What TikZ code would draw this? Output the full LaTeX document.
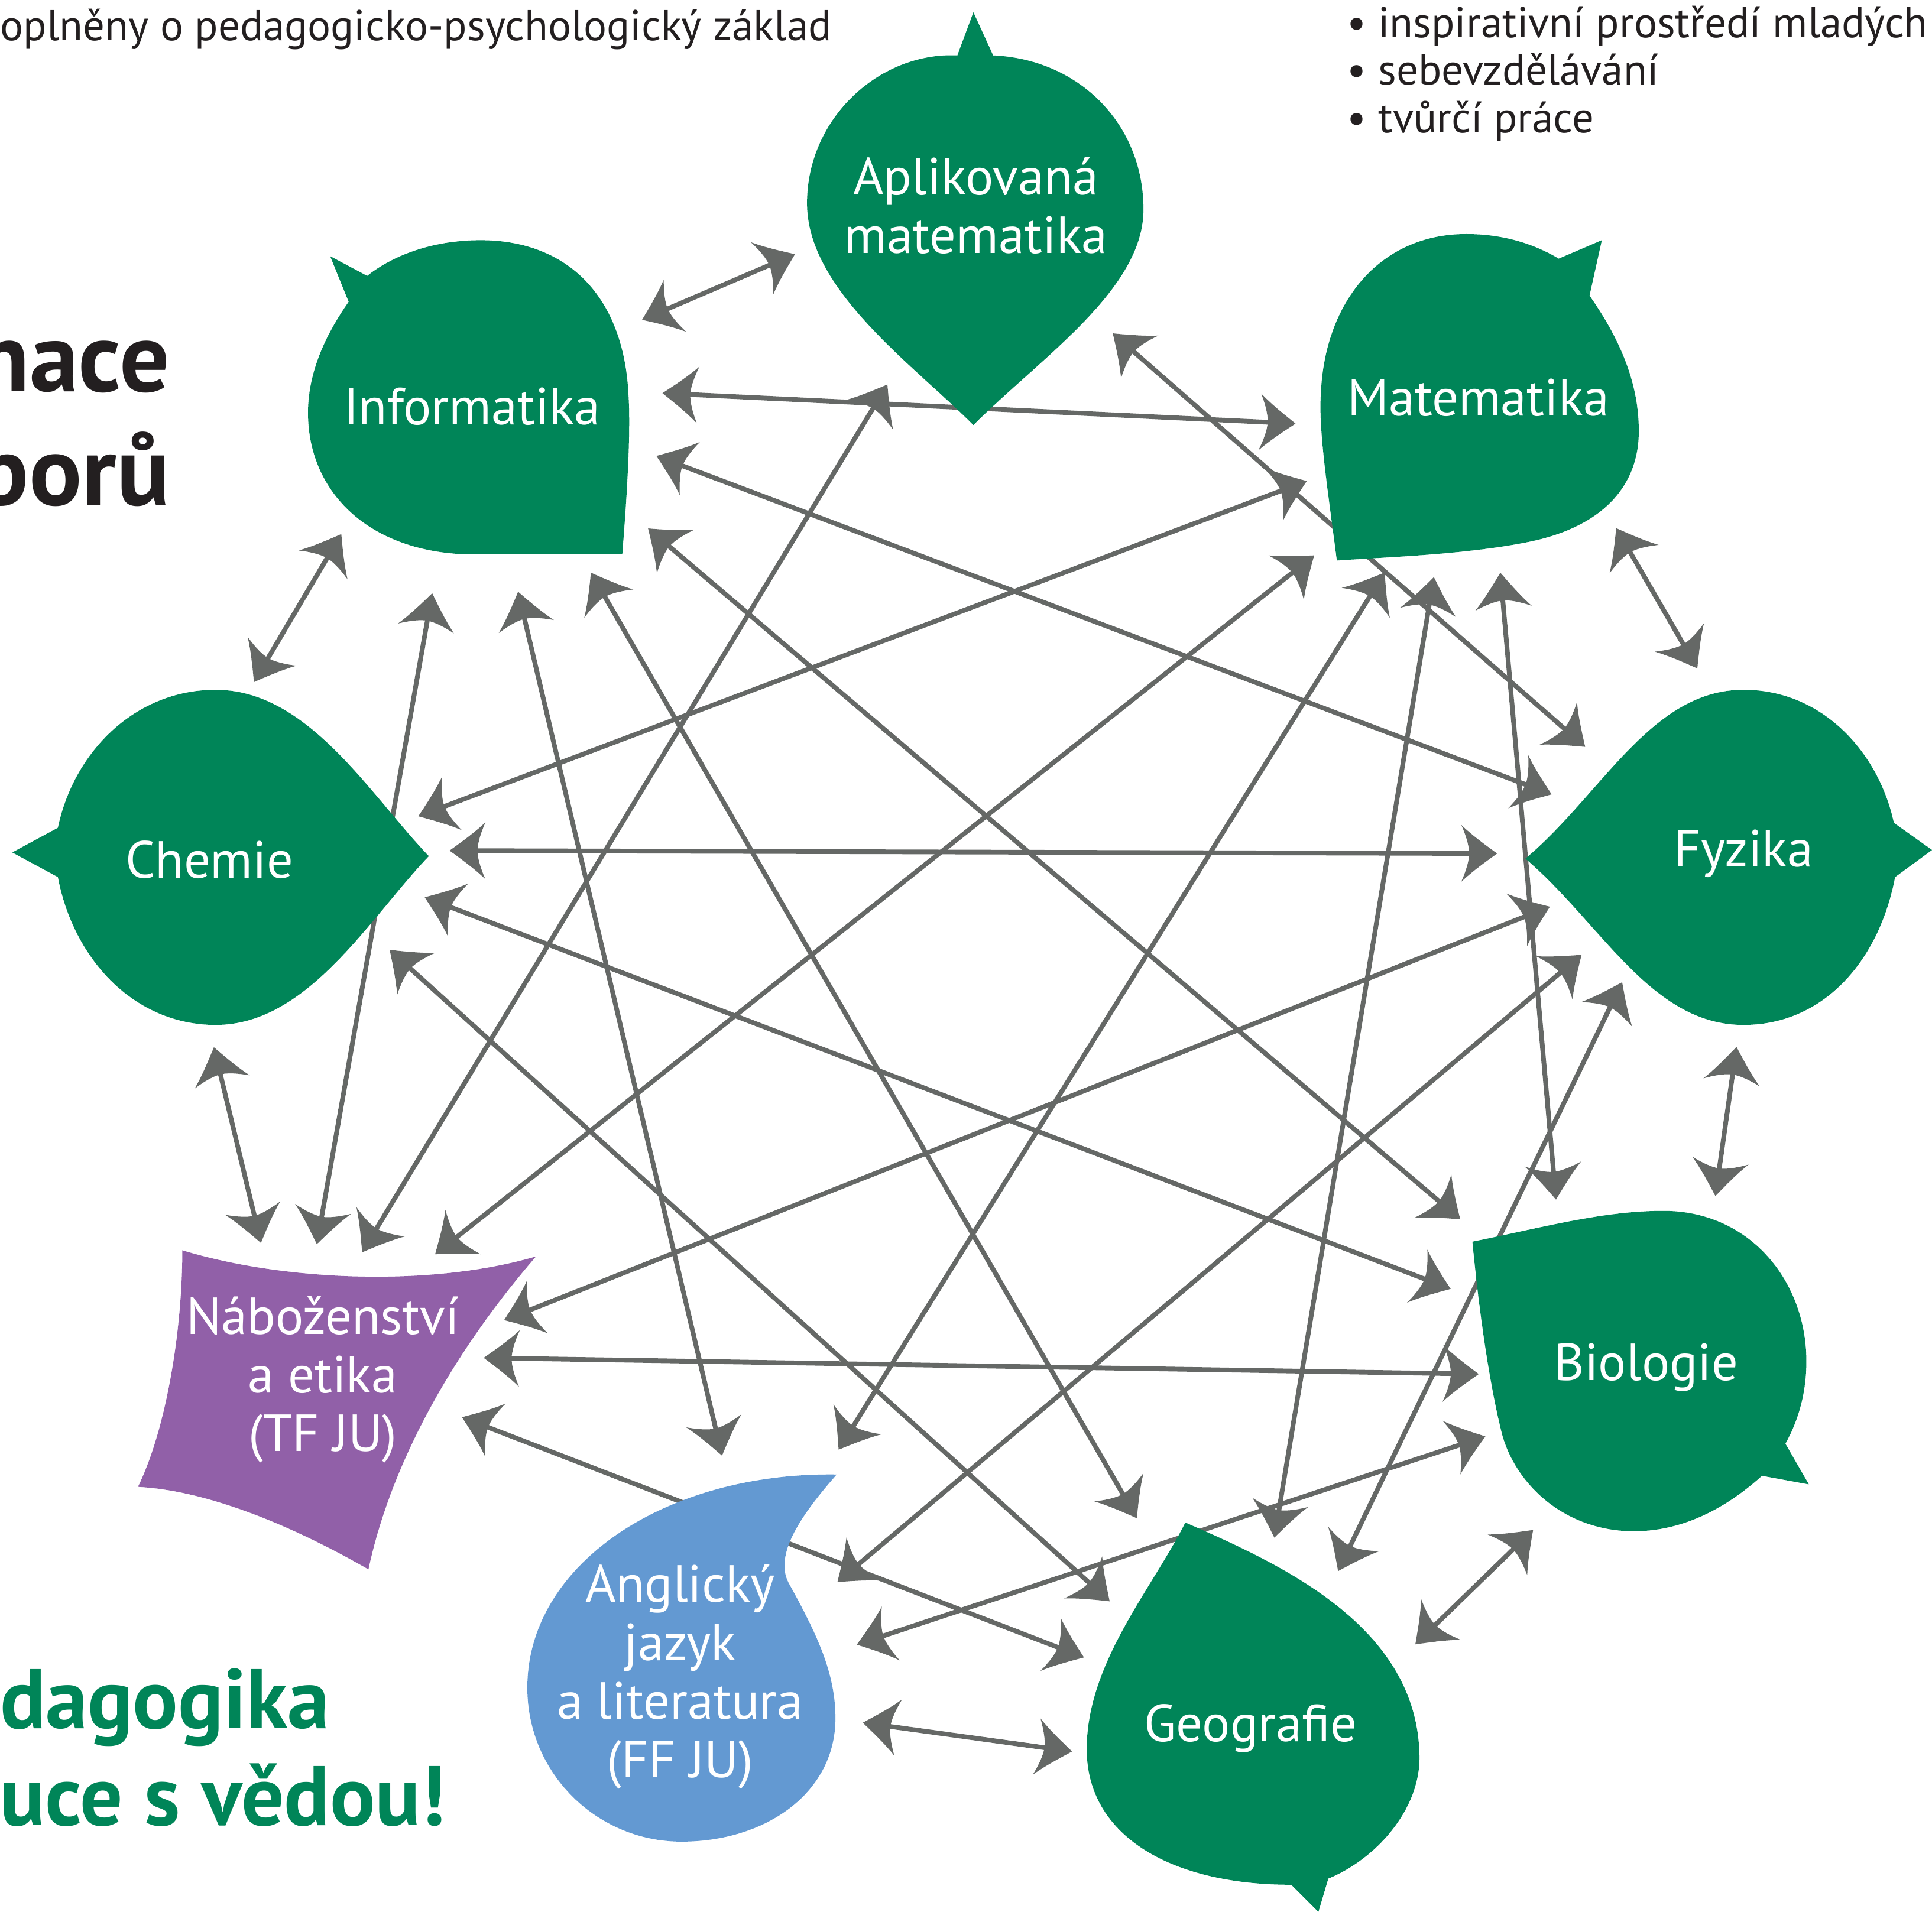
\documentclass[tikz,border=0pt]{standalone}
\usepackage{fontspec}
\setmainfont{PT Sans}
\usetikzlibrary{arrows.meta}

\definecolor{leafgreen}{RGB}{0,133,88}
\definecolor{faithpurple}{RGB}{145,96,168}
\definecolor{langblue}{RGB}{99,153,210}
\definecolor{linkgray}{RGB}{101,104,102}
\definecolor{inkblack}{RGB}{35,31,32}

% swept arrow head with curved wings
\pgfdeclarearrow{
  name = Flare,
  parameters = {\the\pgfarrowlength,\the\pgfarrowwidth},
  setup code = {
    \pgfarrowssettipend{0pt}
    \pgfarrowssetbackend{-\pgfarrowlength}
    \pgfarrowssetlineend{-.7\pgfarrowlength}
    \pgfarrowssetvisualbackend{-.78\pgfarrowlength}
    \pgfarrowssavethe\pgfarrowlength
    \pgfarrowssavethe\pgfarrowwidth
  },
  drawing code = {
    \pgfpathmoveto{\pgfqpoint{0pt}{0pt}}
    \pgfpathcurveto{\pgfqpoint{-.35\pgfarrowlength}{.16\pgfarrowwidth}}{\pgfqpoint{-.7\pgfarrowlength}{.32\pgfarrowwidth}}{\pgfqpoint{-\pgfarrowlength}{.5\pgfarrowwidth}}
    \pgfpathcurveto{\pgfqpoint{-.86\pgfarrowlength}{.3\pgfarrowwidth}}{\pgfqpoint{-.78\pgfarrowlength}{.12\pgfarrowwidth}}{\pgfqpoint{-.78\pgfarrowlength}{0pt}}
    \pgfpathcurveto{\pgfqpoint{-.78\pgfarrowlength}{-.12\pgfarrowwidth}}{\pgfqpoint{-.86\pgfarrowlength}{-.3\pgfarrowwidth}}{\pgfqpoint{-\pgfarrowlength}{-.5\pgfarrowwidth}}
    \pgfpathcurveto{\pgfqpoint{-.7\pgfarrowlength}{-.32\pgfarrowwidth}}{\pgfqpoint{-.35\pgfarrowlength}{-.16\pgfarrowwidth}}{\pgfqpoint{0pt}{0pt}}
    \pgfpathclose
    \pgfusepathqfill
  },
  defaults = {length=14.5pt, width=23pt}
}

\tikzset{
  hub/.style={circle, inner sep=0pt, outer sep=0pt},
  leaf/.style={fill=leafgreen},
  subject/.style={text=white, align=center, inner sep=0pt, font=\fontsize{21.2}{23.75}\selectfont},
  link/.style={draw=linkgray, line width=1.9pt, >={Flare[length=14.5pt,width=23pt]}, <->},
  note/.style={text=inkblack, inner sep=0pt, font=\fontsize{17.5}{19.25}\selectfont},
  headline/.style={text=inkblack, inner sep=0pt, font=\bfseries\fontsize{40}{45}\selectfont},
  slogan/.style={text=leafgreen, inner sep=0pt, font=\bfseries\fontsize{34.3}{38}\selectfont}
}

\begin{document}
\begin{tikzpicture}[x=0.5pt,y=0.5pt,yscale=-1,xscale=1]
\useasboundingbox (0,0) rectangle (1568,1552);

%Hubs (invisible rings round each field)
\foreach \hubname/\hx/\hy/\hubr in {inf/383/330/155, apl/792/167/152, mat/1200/323/150, chem/175/696/160, fyz/1415/693/155, bio/1336/1110/150, geo/1015/1403/150, ang/553/1357/148, nab/262/1120/115}
  \node[hub, minimum size=\hubr pt] (\hubname) at (\hx,\hy) {};

%Straight Lines (two-way links)
\foreach \na/\aa/\nb/\ab/\ka/\kb in {
  inf/27/apl/195/0/0, inf/4/mat/188/0/0, inf/-15/fyz/163/0/4, inf/-34/bio/142/9.5/21.5,
  inf/-54/geo/118/5.5/22, inf/-76/ang/74/0/17, inf/-102/nab/92/0/-2.5, inf/-135/chem/76/-3.5/-7.5,
  apl/-43/fyz/146/0/0, apl/-116/nab/72/5/-3.5,
  mat/-154/chem/11/2.5/4, mat/-135/nab/50/17.5/11, mat/-118/ang/53/5.5/36.5, mat/-104/geo/83/0/3,
  mat/-83/bio/119/-3.5/2.5, mat/-43/fyz/104/2/0,
  chem/2/fyz/180/15/22.5, chem/-10/bio/158/6.5/10.5, chem/-28/geo/138/0/2, chem/-90/nab/115/-3/3.5,
  fyz/-165/nab/17/4/20, fyz/-148/ang/30/0/-1, fyz/-132/geo/61/-6/-2, fyz/-92/bio/68/1/0,
  bio/-178/nab/9/-7/8.5, bio/-157/ang/9/-4/-2, bio/-124/geo/27/5.5/0,
  nab/-15/geo/157/1/-1.5, ang/-16/geo/-173/2.5/-2}
  \draw[link, shorten <=\ka pt, shorten >=\kb pt] (\na.\aa) -- (\nb.\ab);

%Shape: Aplikovana matematika
\fill[leaf] (790,345) .. controls (740,295) and (655,235) .. (655,165) .. controls (655,95) and (715,42) .. (777,45) -- (790,10) -- (806,45) .. controls (875,48) and (928,100) .. (928,170) .. controls (928,235) and (845,290) .. (790,345) -- cycle;
%Shape: Informatika
\fill[leaf] (505,450) .. controls (509,400) and (512,350) .. (510,320) .. controls (506,240) and (460,195) .. (390,195) .. controls (350,195) and (318,208) .. (298,224) -- (268,208) -- (283,245) .. controls (262,275) and (250,305) .. (250,335) .. controls (250,400) and (300,448) .. (380,450) -- cycle;
%Shape: Matematika
\fill[leaf] (1085,455) .. controls (1078,400) and (1070,350) .. (1072,320) .. controls (1075,245) and (1120,190) .. (1190,190) .. controls (1220,190) and (1245,198) .. (1265,210) -- (1300,195) -- (1290,240) .. controls (1318,280) and (1330,315) .. (1330,350) .. controls (1330,395) and (1300,428) .. (1240,440) .. controls (1190,450) and (1130,452) .. (1085,455) -- cycle;
%Shape: Chemie
\fill[leaf] (348,695) .. controls (300,645) and (250,560) .. (175,560) .. controls (110,560) and (60,610) .. (47,672) -- (10,692) -- (47,712) .. controls (60,780) and (110,832) .. (175,832) .. controls (250,832) and (300,745) .. (348,695) -- cycle;
%Shape: Fyzika
\fill[leaf] (1238,697) .. controls (1300,645) and (1340,560) .. (1415,560) .. controls (1480,560) and (1525,612) .. (1537,668) -- (1568,690) -- (1538,712) .. controls (1525,780) and (1480,832) .. (1415,832) .. controls (1340,832) and (1300,750) .. (1238,697) -- cycle;
%Shape: Biologie
\fill[leaf] (1195,1008) .. controls (1250,997) and (1300,983) .. (1350,983) .. controls (1420,983) and (1466,1040) .. (1466,1105) .. controls (1466,1130) and (1460,1152) .. (1449,1172) -- (1468,1205) -- (1430,1198) .. controls (1400,1225) and (1365,1243) .. (1326,1243) .. controls (1270,1243) and (1230,1205) .. (1219,1164) .. controls (1208,1120) and (1200,1060) .. (1195,1008) -- cycle;
%Shape: Geografie
\fill[leaf] (962,1236) .. controls (1040,1270) and (1150,1320) .. (1152,1425) .. controls (1153,1470) and (1115,1510) .. (1078,1525) -- (1070,1552) -- (1048,1530) .. controls (950,1530) and (882,1490) .. (882,1420) .. controls (882,1350) and (935,1290) .. (962,1236) -- cycle;
%Shape: Anglicky jazyk
\fill[langblue] (679,1197) .. controls (650,1230) and (628,1262) .. (640,1285) .. controls (665,1330) and (678,1360) .. (678,1395) .. controls (678,1455) and (622,1495) .. (553,1495) .. controls (485,1495) and (428,1440) .. (428,1370) .. controls (428,1270) and (540,1195) .. (679,1197) -- cycle;
%Shape: Nabozenstvi
\fill[faithpurple] (148,1015) .. controls (230,1040) and (350,1045) .. (435,1020) .. controls (370,1095) and (318,1185) .. (299,1274) .. controls (240,1240) and (170,1210) .. (112,1207) .. controls (135,1160) and (148,1080) .. (148,1015) -- cycle;

% Text Node
\node[subject] (apl-txt) at (apl) {Aplikovaná\\matematika};
\node[subject] (inf-txt) at (inf) {Informatika};
\node[subject] (mat-txt) at (mat) {Matematika};
\node[subject] (chem-txt) at (170,698) {Chemie};
\node[subject] (fyz-txt) at (fyz) {Fyzika};
\node[subject] (bio-txt) at (bio) {Biologie};
\node[subject] (geo-txt) at (geo) {Geografie};
\node[subject] (ang-txt) at (552,1361) {Anglický\\jazyk\\a literatura\\(FF JU)};
\node[subject] (nab-txt) at (nab) {Náboženství\\a etika\\(TF JU)};

% Text Node
\node[note, anchor=base west] (intro) at (0,33) {oplněny o pedagogicko-psychologický základ};
\node[note, anchor=base west] (perk-a) at (1093,30.5) {• inspirativní prostředí mladých};
\node[note, anchor=base west] (perk-b) at (1093,69) {• sebevzdělávání};
\node[note, anchor=base west] (perk-c) at (1093,107.5) {• tvůrčí práce};
\node[headline, anchor=base east] (title-a) at (138,318) {nace};
\node[headline, anchor=base east] (title-b) at (138,410) {borů};
\node[slogan, anchor=base east] (motto-a) at (268,1403) {dagogika};
\node[slogan, anchor=base east] (motto-b) at (362,1482) {uce s vědou!};

\end{tikzpicture}
\end{document}
